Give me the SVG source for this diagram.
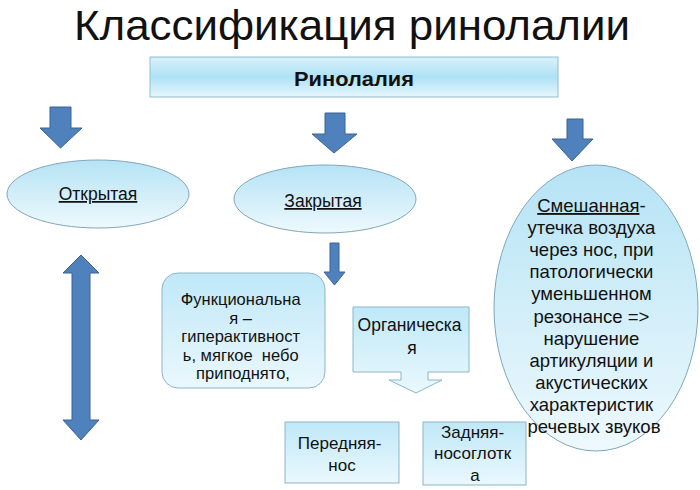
<svg xmlns="http://www.w3.org/2000/svg" width="700" height="490" viewBox="0 0 700 490">
<defs>
<linearGradient id="gBar" x1="0" y1="0" x2="0" y2="1">
<stop offset="0" stop-color="#d9f1fb"/>
<stop offset="0.5" stop-color="#aee2f6"/>
<stop offset="1" stop-color="#e6f7fc"/>
</linearGradient>
<linearGradient id="gEll" x1="0" y1="0" x2="0" y2="1">
<stop offset="0" stop-color="#b5e3f5"/>
<stop offset="1" stop-color="#eef9fd"/>
</linearGradient>
<linearGradient id="gBox" x1="0" y1="0" x2="0" y2="1">
<stop offset="0" stop-color="#bfe8f8"/>
<stop offset="1" stop-color="#eaf8fd"/>
</linearGradient>
<style>
.t{font-family:"Liberation Sans",Arial,sans-serif;fill:#111;text-anchor:middle}
.blue{fill:#4f81bd;stroke:#3b6494;stroke-width:1}
.ell{fill:url(#gEll);stroke:#7fa7bc;stroke-width:1}
.box{fill:url(#gBox);stroke:#8db5c6;stroke-width:1}
</style>
</defs>
<rect width="700" height="490" fill="#fff"/>
<text class="t" x="352" y="40" font-size="42" textLength="556" lengthAdjust="spacingAndGlyphs">Классификация ринолалии</text>

<g id="rinolalia">
<rect x="150" y="57" width="408" height="40" fill="url(#gBar)" stroke="#8fbfcc" stroke-width="1"/>
<text class="t" x="354" y="86" font-size="21" font-weight="bold" textLength="120" lengthAdjust="spacingAndGlyphs">Ринолалия</text>
</g>

<g id="connectors">
<polygon class="blue" points="50,107 71,107 71,128 82,128 60.5,148 40,128 50,128"/>
<polygon class="blue" points="325,113 345,113 345,134 357,134 334,153 312,134 325,134"/>
<polygon class="blue" points="567,119 583,119 583,139 593,139 572,161 552,139 567,139"/>
<polygon class="blue" points="330,243 339,243 339,272 345,272 334.5,285 324,272 330,272"/>
<polygon class="blue" points="81,255 99,273 90,273 90,420 99,420 81,440 63,420 72,420 72,273 63,273"/>
</g>

<g id="open">
<ellipse class="ell" cx="98" cy="194" rx="91" ry="34"/>
<text class="t" x="98" y="200" font-size="17.5" text-decoration="underline">Открытая</text>
</g>

<g id="closed">
<ellipse class="ell" cx="325" cy="199" rx="91" ry="34"/>
<text class="t" x="323" y="207" font-size="17.5" text-decoration="underline">Закрытая</text>
</g>

<g id="mixed">
<ellipse class="ell" cx="596" cy="308" rx="102" ry="143"/>
<text class="t" font-size="18.5">
<tspan x="594" y="212"><tspan text-decoration="underline">Смешанная</tspan>-</tspan>
<tspan x="594" y="234">утечка воздуха</tspan>
<tspan x="594" y="256">через нос, при</tspan>
<tspan x="594" y="278">патологически</tspan>
<tspan x="594" y="300">уменьшенном</tspan>
<tspan x="594" y="323">резонансе =&gt;</tspan>
<tspan x="594" y="345">нарушение</tspan>
<tspan x="594" y="367">артикуляции и</tspan>
<tspan x="594" y="389">акустических</tspan>
<tspan x="594" y="411">характеристик</tspan>
<tspan x="594" y="433">речевых звуков</tspan>
</text>
</g>

<g id="functional">
<rect class="box" x="162" y="273" width="163" height="115" rx="16"/>
<text class="t" font-size="16.5">
<tspan x="243" y="305">Функциональна</tspan>
<tspan x="243" y="323.5">я –</tspan>
<tspan x="243" y="342">гиперактивност</tspan>
<tspan x="243" y="360.5" xml:space="preserve">ь, мягкое  небо</tspan>
<tspan x="243" y="379">приподнято,</tspan>
</text>
</g>

<g id="organic">
<path class="box" d="M353,307 H469 V372 H428 V380 H442 L416,393 L389,380 H401 V372 H353 Z"/>
<text class="t" font-size="17.5">
<tspan x="412" y="331">Органическа</tspan>
<tspan x="412" y="354">я</tspan>
</text>
</g>

<g id="front">
<rect class="box" x="285" y="422" width="114" height="61"/>
<text class="t" font-size="17">
<tspan x="342" y="449">Передняя-</tspan>
<tspan x="342" y="471">нос</tspan>
</text>
</g>

<g id="back">
<rect class="box" x="423" y="422" width="103" height="63"/>
<text class="t" font-size="17">
<tspan x="475" y="438">Задняя-</tspan>
<tspan x="475" y="459">носоглотк</tspan>
<tspan x="475" y="481">а</tspan>
</text>
</g>
</svg>
